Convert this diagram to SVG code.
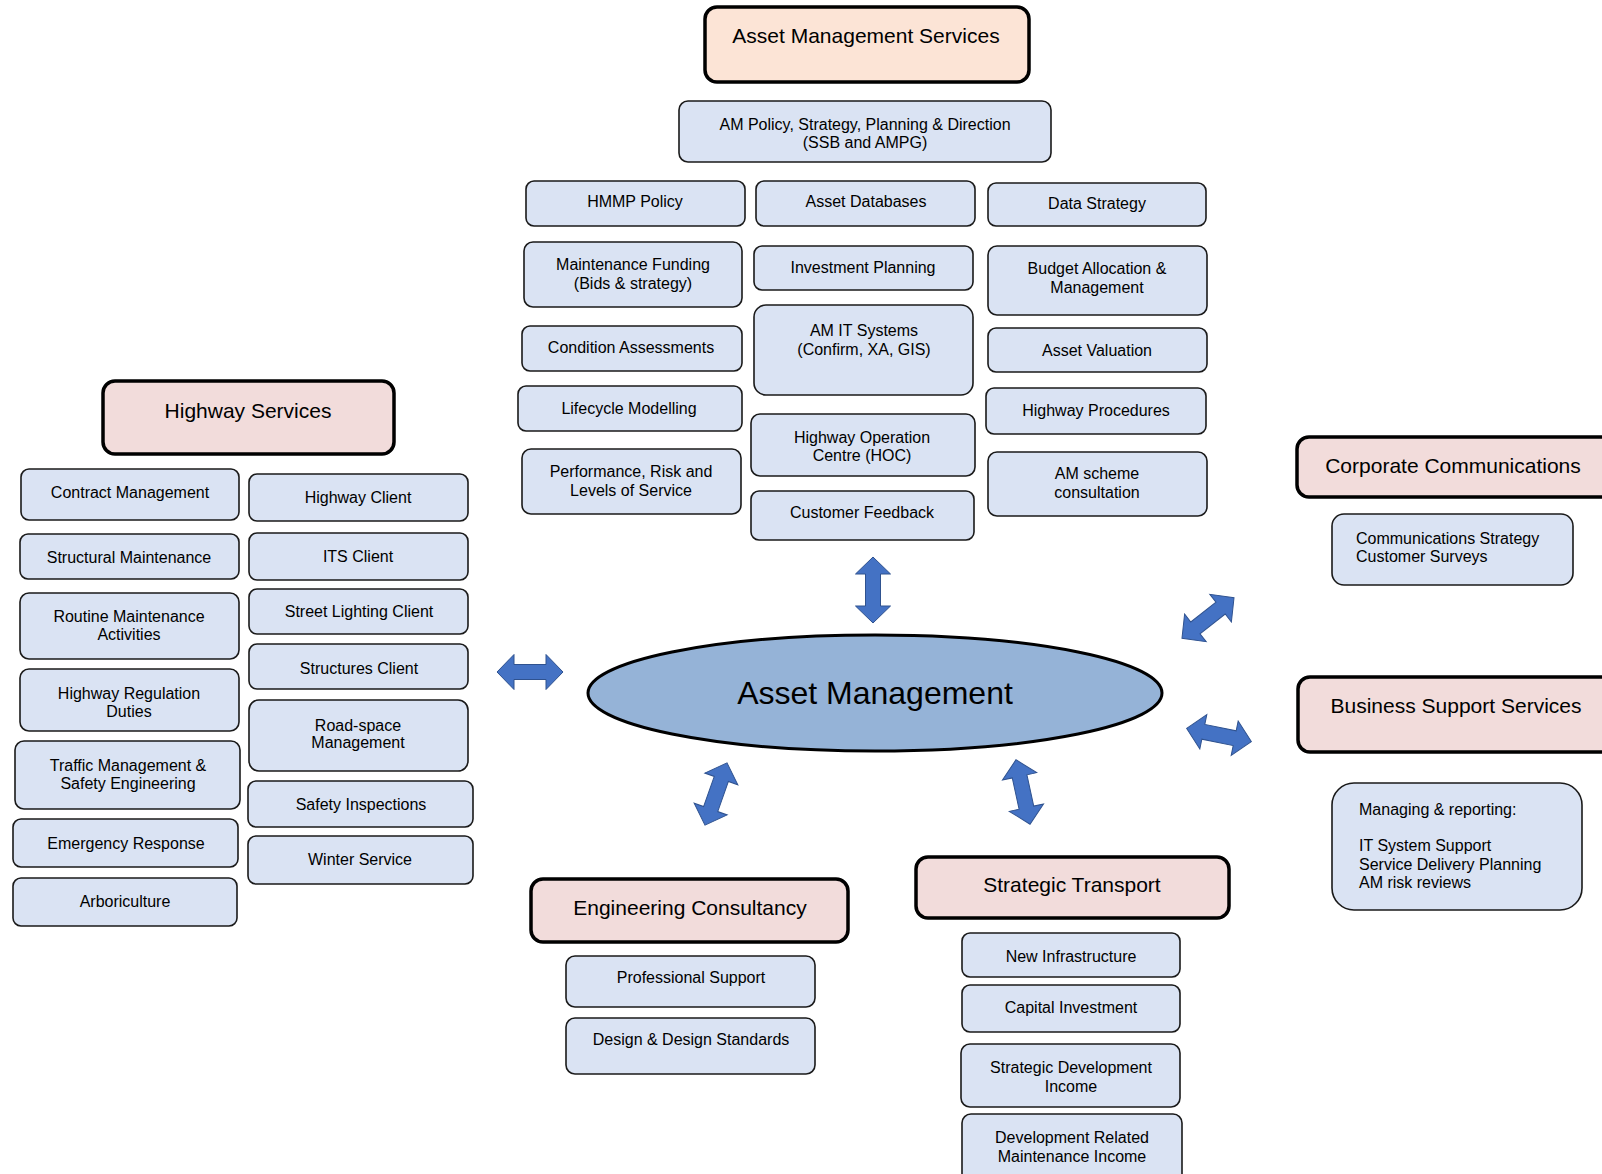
<svg xmlns="http://www.w3.org/2000/svg" xmlns:xlink="http://www.w3.org/1999/xlink" width="1602" height="1174" viewBox="0 0 1602 1174">
<style>
.box{fill:#DAE3F3;stroke:#1a1a1a;stroke-width:1.6}
.hdr{fill:#F2DCDB;stroke:#000;stroke-width:3.5}
.ams{fill:#FCE4D6;stroke:#000;stroke-width:3.5}
text{font-family:"Liberation Sans",Arial,sans-serif;font-size:16px;fill:#000}
.c{text-anchor:middle}
.h{font-size:21px}
.big{font-size:32px}
.arrow{fill:#4472C4;stroke:#2F528F;stroke-width:1}
</style>
<defs>
<polygon id="dbl" class="arrow" points="-33,0 -16,-17.5 -16,-7.5 16,-7.5 16,-17.5 33,0 16,17.5 16,7.5 -16,7.5 -16,17.5"/>
</defs>
<rect width="1602" height="1174" fill="#fff"/>

<g id="connectors">
<use xlink:href="#dbl" transform="translate(873,590) rotate(90)"/>
<use xlink:href="#dbl" transform="translate(530,672)"/>
<use xlink:href="#dbl" transform="translate(1208,618) rotate(-38)"/>
<use xlink:href="#dbl" transform="translate(1219,735) rotate(11.5)"/>
<use xlink:href="#dbl" transform="translate(716,794) rotate(109.5)"/>
<use xlink:href="#dbl" transform="translate(1023,792) rotate(77.7)"/>
</g>

<g id="asset-management">
<ellipse cx="875" cy="693" rx="287" ry="58" fill="#95B3D7" stroke="#000" stroke-width="3"/>
<text class="c big" x="875" y="704">Asset Management</text>
</g>

<g id="ams-header"><rect class="ams" x="705" y="7" width="324" height="75" rx="12"/><text class="c h" x="866" y="43">Asset Management Services</text></g>
<g id="am-policy"><rect class="box" x="679" y="101" width="372" height="61" rx="9"/><text class="c" x="865" y="130">AM Policy, Strategy, Planning &amp; Direction</text><text class="c" x="865" y="148">(SSB and AMPG)</text></g>
<g id="hmmp"><rect class="box" x="526" y="181" width="219" height="45" rx="8"/><text class="c" x="635" y="207">HMMP Policy</text></g>
<g id="asset-db"><rect class="box" x="756" y="181" width="219" height="45" rx="8"/><text class="c" x="866" y="207">Asset Databases</text></g>
<g id="data-strategy"><rect class="box" x="988" y="183" width="218" height="43" rx="8"/><text class="c" x="1097" y="209">Data Strategy</text></g>
<g id="maint-funding"><rect class="box" x="524" y="242" width="218" height="65" rx="9"/><text class="c" x="633" y="270">Maintenance Funding</text><text class="c" x="633" y="289">(Bids &amp; strategy)</text></g>
<g id="investment"><rect class="box" x="754" y="246" width="219" height="44" rx="8"/><text class="c" x="863" y="273">Investment Planning</text></g>
<g id="budget"><rect class="box" x="988" y="246" width="219" height="69" rx="9"/><text class="c" x="1097" y="274">Budget Allocation &amp;</text><text class="c" x="1097" y="293">Management</text></g>
<g id="condition"><rect class="box" x="522" y="326" width="220" height="45" rx="8"/><text class="c" x="631" y="353">Condition Assessments</text></g>
<g id="am-it"><rect class="box" x="754" y="305" width="219" height="90" rx="12"/><text class="c" x="864" y="336">AM IT Systems</text><text class="c" x="864" y="355">(Confirm, XA, GIS)</text></g>
<g id="valuation"><rect class="box" x="988" y="328" width="219" height="44" rx="8"/><text class="c" x="1097" y="356">Asset Valuation</text></g>
<g id="lifecycle"><rect class="box" x="518" y="386" width="224" height="45" rx="8"/><text class="c" x="629" y="414">Lifecycle Modelling</text></g>
<g id="hoc"><rect class="box" x="751" y="414" width="224" height="62" rx="9"/><text class="c" x="862" y="443">Highway Operation</text><text class="c" x="862" y="461">Centre (HOC)</text></g>
<g id="procedures"><rect class="box" x="986" y="388" width="220" height="46" rx="8"/><text class="c" x="1096" y="416">Highway Procedures</text></g>
<g id="performance"><rect class="box" x="522" y="449" width="219" height="65" rx="9"/><text class="c" x="631" y="477">Performance, Risk and</text><text class="c" x="631" y="496">Levels of Service</text></g>
<g id="feedback"><rect class="box" x="751" y="491" width="223" height="49" rx="8"/><text class="c" x="862" y="518">Customer Feedback</text></g>
<g id="scheme"><rect class="box" x="988" y="452" width="219" height="64" rx="9"/><text class="c" x="1097" y="479">AM scheme</text><text class="c" x="1097" y="498">consultation</text></g>

<g id="highway-services"><rect class="hdr" x="103" y="381" width="291" height="73" rx="12"/><text class="c h" x="248" y="418">Highway Services</text></g>
<g id="contract"><rect class="box" x="21" y="469" width="218" height="51" rx="8"/><text class="c" x="130" y="498">Contract Management</text></g>
<g id="structural"><rect class="box" x="20" y="534" width="219" height="45" rx="8"/><text class="c" x="129" y="563">Structural Maintenance</text></g>
<g id="routine"><rect class="box" x="20" y="593" width="219" height="66" rx="9"/><text class="c" x="129" y="622">Routine Maintenance</text><text class="c" x="129" y="640">Activities</text></g>
<g id="regulation"><rect class="box" x="20" y="669" width="219" height="62" rx="9"/><text class="c" x="129" y="699">Highway Regulation</text><text class="c" x="129" y="717">Duties</text></g>
<g id="traffic"><rect class="box" x="15" y="741" width="225" height="68" rx="9"/><text class="c" x="128" y="771">Traffic Management &amp;</text><text class="c" x="128" y="789">Safety Engineering</text></g>
<g id="emergency"><rect class="box" x="13" y="819" width="225" height="48" rx="8"/><text class="c" x="126" y="849">Emergency Response</text></g>
<g id="arboriculture"><rect class="box" x="13" y="878" width="224" height="48" rx="8"/><text class="c" x="125" y="907">Arboriculture</text></g>
<g id="highway-client"><rect class="box" x="249" y="474" width="219" height="47" rx="8"/><text class="c" x="358" y="503">Highway Client</text></g>
<g id="its-client"><rect class="box" x="249" y="533" width="219" height="47" rx="8"/><text class="c" x="358" y="562">ITS Client</text></g>
<g id="lighting"><rect class="box" x="249" y="589" width="219" height="45" rx="8"/><text class="c" x="359" y="617">Street Lighting Client</text></g>
<g id="structures"><rect class="box" x="249" y="644" width="219" height="45" rx="8"/><text class="c" x="359" y="674">Structures Client</text></g>
<g id="roadspace"><rect class="box" x="249" y="700" width="219" height="71" rx="10"/><text class="c" x="358" y="731">Road-space</text><text class="c" x="358" y="748">Management</text></g>
<g id="safety"><rect class="box" x="248" y="781" width="225" height="46" rx="8"/><text class="c" x="361" y="810">Safety Inspections</text></g>
<g id="winter"><rect class="box" x="248" y="836" width="225" height="48" rx="8"/><text class="c" x="360" y="865">Winter Service</text></g>

<g id="corp-comms"><rect class="hdr" x="1297" y="437" width="330" height="60" rx="12"/><text class="c h" x="1453" y="473">Corporate Communications</text></g>
<g id="comms-strategy"><rect class="box" x="1332" y="514" width="241" height="71" rx="12"/><text x="1356" y="544">Communications Strategy</text><text x="1356" y="562">Customer Surveys</text></g>
<g id="business-support"><rect class="hdr" x="1298" y="677" width="330" height="75" rx="12"/><text class="c h" x="1456" y="713">Business Support Services</text></g>
<g id="managing"><rect class="box" x="1332" y="783" width="250" height="127" rx="22"/><text x="1359" y="815">Managing &amp; reporting:</text><text x="1359" y="851">IT System Support</text><text x="1359" y="870">Service Delivery Planning</text><text x="1359" y="888">AM risk reviews</text></g>

<g id="engineering"><rect class="hdr" x="531" y="879" width="317" height="63" rx="12"/><text class="c h" x="690" y="915">Engineering Consultancy</text></g>
<g id="professional"><rect class="box" x="566" y="956" width="249" height="51" rx="9"/><text class="c" x="691" y="983">Professional Support</text></g>
<g id="design"><rect class="box" x="566" y="1018" width="249" height="56" rx="9"/><text class="c" x="691" y="1045">Design &amp; Design Standards</text></g>

<g id="strategic-transport"><rect class="hdr" x="916" y="857" width="313" height="61" rx="12"/><text class="c h" x="1072" y="892">Strategic Transport</text></g>
<g id="new-infra"><rect class="box" x="962" y="933" width="218" height="44" rx="8"/><text class="c" x="1071" y="962">New Infrastructure</text></g>
<g id="capital"><rect class="box" x="962" y="985" width="218" height="47" rx="8"/><text class="c" x="1071" y="1013">Capital Investment</text></g>
<g id="sdi"><rect class="box" x="961" y="1044" width="219" height="63" rx="9"/><text class="c" x="1071" y="1073">Strategic Development</text><text class="c" x="1071" y="1092">Income</text></g>
<g id="drmi"><rect class="box" x="962" y="1114" width="220" height="72" rx="9"/><text class="c" x="1072" y="1143">Development Related</text><text class="c" x="1072" y="1162">Maintenance Income</text></g>
</svg>
